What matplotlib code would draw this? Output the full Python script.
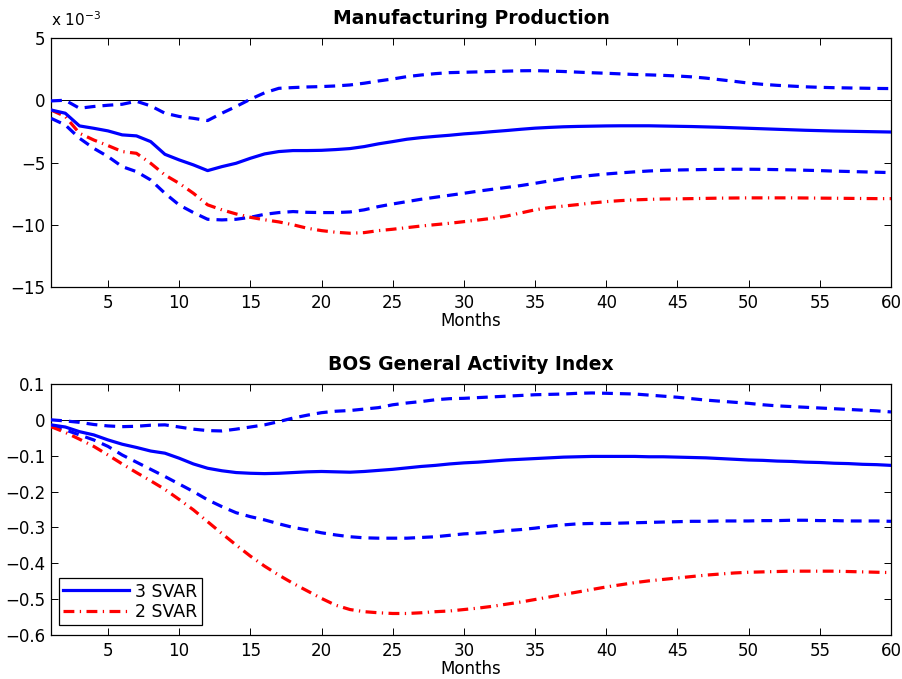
import numpy as np
import matplotlib
matplotlib.use("Agg")
import matplotlib.pyplot as plt

plt.rcParams['font.family'] = ['DejaVu Sans']
plt.rcParams['axes.unicode_minus'] = True

months = np.arange(1, 61)

# Manufacturing production responses (units of 1e-3)
mfg_3svar = [-0.78, -1.04, -2.06, -2.25, -2.46, -2.78, -2.86, -3.32, -4.34, -4.79,
             -5.19, -5.65, -5.33, -5.06, -4.66, -4.31, -4.12, -4.04, -4.04, -4.02,
             -3.96, -3.88, -3.72, -3.50, -3.32, -3.13, -3.00, -2.90, -2.81, -2.70,
             -2.62, -2.52, -2.43, -2.33, -2.24, -2.18, -2.13, -2.10, -2.08, -2.06,
             -2.05, -2.05, -2.05, -2.07, -2.09, -2.11, -2.14, -2.17, -2.21, -2.25,
             -2.29, -2.33, -2.37, -2.41, -2.44, -2.47, -2.49, -2.51, -2.53, -2.55]
mfg_upper = [-0.05, 0.00, -0.64, -0.50, -0.40, -0.32, -0.08, -0.45, -1.04, -1.30,
             -1.45, -1.63, -1.04, -0.50, 0.08, 0.60, 0.96, 1.02, 1.07, 1.10,
             1.15, 1.23, 1.37, 1.55, 1.71, 1.90, 2.03, 2.14, 2.22, 2.25,
             2.28, 2.31, 2.34, 2.37, 2.38, 2.35, 2.31, 2.26, 2.21, 2.17,
             2.12, 2.07, 2.04, 2.00, 1.95, 1.88, 1.78, 1.65, 1.52, 1.38,
             1.28, 1.20, 1.14, 1.08, 1.04, 1.01, 0.99, 0.97, 0.95, 0.94]
mfg_lower = [-1.45, -1.98, -3.05, -3.86, -4.52, -5.33, -5.73, -6.40, -7.47, -8.41,
             -9.02, -9.56, -9.61, -9.56, -9.40, -9.16, -9.02, -8.94, -9.00, -9.02,
             -9.02, -8.97, -8.80, -8.54, -8.33, -8.14, -7.95, -7.79, -7.63, -7.47,
             -7.30, -7.15, -7.00, -6.85, -6.67, -6.48, -6.30, -6.15, -6.03, -5.92,
             -5.83, -5.75, -5.68, -5.63, -5.60, -5.58, -5.56, -5.55, -5.54, -5.54,
             -5.55, -5.57, -5.59, -5.62, -5.65, -5.69, -5.72, -5.75, -5.78, -5.81]
mfg_2svar = [-0.78, -1.30, -2.65, -3.19, -3.64, -4.12, -4.26, -5.06, -6.00, -6.67,
             -7.47, -8.40, -8.80, -9.13, -9.40, -9.60, -9.77, -10.00, -10.28, -10.47,
             -10.60, -10.68, -10.63, -10.47, -10.36, -10.23, -10.10, -9.99, -9.88, -9.75,
             -9.62, -9.48, -9.30, -9.05, -8.80, -8.62, -8.50, -8.38, -8.25, -8.14,
             -8.06, -8.00, -7.96, -7.93, -7.92, -7.90, -7.88, -7.86, -7.85, -7.84,
             -7.84, -7.84, -7.84, -7.85, -7.86, -7.87, -7.88, -7.89, -7.90, -7.90]

# BOS general activity index responses
bos_3svar = [-0.014, -0.020, -0.033, -0.042, -0.056, -0.068, -0.077, -0.087, -0.093, -0.107,
             -0.123, -0.135, -0.142, -0.147, -0.149, -0.150, -0.149, -0.147, -0.145, -0.144,
             -0.145, -0.146, -0.144, -0.141, -0.138, -0.134, -0.130, -0.127, -0.123, -0.120,
             -0.118, -0.115, -0.112, -0.110, -0.108, -0.106, -0.104, -0.103, -0.102, -0.102,
             -0.102, -0.102, -0.103, -0.103, -0.104, -0.105, -0.106, -0.108, -0.110, -0.112,
             -0.113, -0.115, -0.116, -0.118, -0.119, -0.121, -0.122, -0.124, -0.125, -0.127]
bos_upper = [0.000, -0.003, -0.007, -0.013, -0.017, -0.019, -0.018, -0.015, -0.014, -0.020,
             -0.026, -0.030, -0.031, -0.026, -0.020, -0.014, -0.005, 0.005, 0.013, 0.020,
             0.024, 0.026, 0.030, 0.034, 0.042, 0.047, 0.051, 0.056, 0.059, 0.060,
             0.062, 0.064, 0.066, 0.068, 0.070, 0.071, 0.072, 0.074, 0.075, 0.074,
             0.073, 0.072, 0.069, 0.066, 0.063, 0.059, 0.055, 0.052, 0.049, 0.046,
             0.042, 0.039, 0.037, 0.035, 0.033, 0.031, 0.029, 0.027, 0.025, 0.022]
bos_lower = [-0.019, -0.028, -0.042, -0.056, -0.074, -0.098, -0.118, -0.138, -0.158, -0.179,
             -0.200, -0.223, -0.242, -0.259, -0.270, -0.279, -0.290, -0.300, -0.307, -0.315,
             -0.321, -0.326, -0.329, -0.330, -0.330, -0.330, -0.328, -0.326, -0.322, -0.318,
             -0.316, -0.313, -0.309, -0.306, -0.302, -0.297, -0.293, -0.290, -0.289, -0.289,
             -0.288, -0.287, -0.286, -0.285, -0.284, -0.283, -0.283, -0.282, -0.282, -0.282,
             -0.281, -0.281, -0.280, -0.280, -0.281, -0.281, -0.282, -0.282, -0.282, -0.283]
bos_2svar = [-0.019, -0.035, -0.054, -0.074, -0.098, -0.123, -0.147, -0.170, -0.194, -0.222,
             -0.251, -0.284, -0.317, -0.349, -0.380, -0.408, -0.433, -0.456, -0.477, -0.498,
             -0.517, -0.529, -0.535, -0.538, -0.540, -0.540, -0.538, -0.535, -0.533, -0.529,
             -0.525, -0.520, -0.514, -0.508, -0.501, -0.494, -0.487, -0.480, -0.473, -0.466,
             -0.460, -0.454, -0.449, -0.445, -0.441, -0.437, -0.433, -0.430, -0.427, -0.425,
             -0.424, -0.423, -0.422, -0.422, -0.422, -0.422, -0.423, -0.424, -0.425, -0.426]

x_ticks = [5, 10, 15, 20, 25, 30, 35, 40, 45, 50, 55, 60]
mfg_yticks = [-15, -10, -5, 0, 5]
mfg_yticklabels = ['\u221215', '\u221210', '\u22125', '0', '5']
bos_yticks = [-0.6, -0.5, -0.4, -0.3, -0.2, -0.1, 0, 0.1]
bos_yticklabels = ['\u22120.6', '\u22120.5', '\u22120.4', '\u22120.3', '\u22120.2', '\u22120.1', '0', '0.1']

fig = plt.figure(figsize=(9.03, 6.79), dpi=100)
ax1 = fig.add_axes([0.0565, 0.5773, 0.9302, 0.3667])
ax2 = fig.add_axes([0.0565, 0.0648, 0.9302, 0.3697])

blue = '#0000ff'
red = '#ff0000'
lw = 2.3
dash = (0, (3.4, 2.2))
dashdot = (0, (3.4, 1.7, 0.4, 1.7))
tick_fs = 12
title_fs = 13.5


def style_axes(ax, title):
    ax.set_xlim(1, 60)
    ax.set_xticks(x_ticks)
    ax.axhline(0, color='black', lw=0.7, zorder=1)
    ax.tick_params(direction='in', top=True, right=True, length=5, width=0.7,
                   labelsize=tick_fs)
    ax.tick_params(axis='x', pad=5)
    ax.tick_params(axis='y', pad=4)
    for sp in ax.spines.values():
        sp.set_linewidth(0.9)
    ax.set_title(title, fontsize=title_fs, fontweight='bold', pad=10)
    ax.set_xlabel('Months', fontsize=tick_fs, labelpad=0)


# Top panel
ax1.plot(months, mfg_upper, color=blue, lw=lw, linestyle=dash, zorder=3)
ax1.plot(months, mfg_lower, color=blue, lw=lw, linestyle=dash, zorder=3)
ax1.plot(months, mfg_3svar, color=blue, lw=lw, linestyle='-', zorder=4)
ax1.plot(months, mfg_2svar, color=red, lw=lw, linestyle=dashdot, zorder=3)
ax1.set_ylim(-15, 5)
ax1.set_yticks(mfg_yticks)
ax1.set_yticklabels(mfg_yticklabels)
style_axes(ax1, 'Manufacturing Production')
ax1.text(0.0, 1.035, 'x 10$^{\u22123}$', transform=ax1.transAxes, fontsize=11,
         ha='left', va='bottom')

# Bottom panel
ax2.plot(months, bos_upper, color=blue, lw=lw, linestyle=dash, zorder=3)
ax2.plot(months, bos_lower, color=blue, lw=lw, linestyle=dash, zorder=3)
ax2.plot(months, bos_3svar, color=blue, lw=lw, linestyle='-', zorder=4, label='3 SVAR')
ax2.plot(months, bos_2svar, color=red, lw=lw, linestyle=dashdot, zorder=3, label='2 SVAR')
ax2.set_ylim(-0.6, 0.1)
ax2.set_yticks(bos_yticks)
ax2.set_yticklabels(bos_yticklabels)
style_axes(ax2, 'BOS General Activity Index')

leg = ax2.legend(loc='lower left', bbox_to_anchor=(0.0095, 0.038), fontsize=12.5,
                 frameon=True, fancybox=False, edgecolor='black', framealpha=1,
                 handlelength=3.8, borderpad=0.25, labelspacing=0.15,
                 handletextpad=0.35, borderaxespad=0)
leg.get_frame().set_linewidth(0.9)

fig.savefig('out.png', dpi=100)
